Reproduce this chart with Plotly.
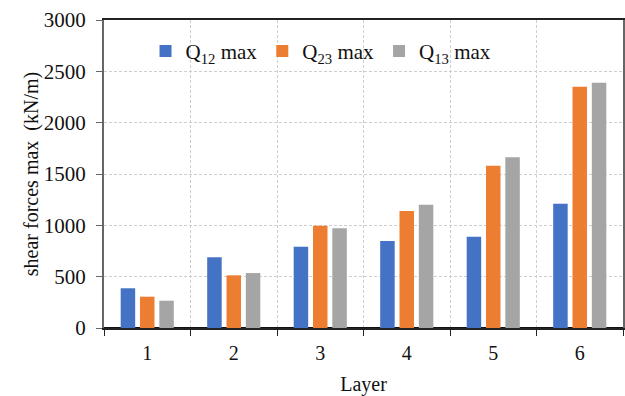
import plotly.graph_objects as go

layers = ["1", "2", "3", "4", "5", "6"]
q12 = [387, 688, 792, 847, 889, 1210]
q23 = [305, 513, 996, 1139, 1580, 2350]
q13 = [266, 535, 971, 1201, 1662, 2389]

names = ["Q<sub>12</sub> max", "Q<sub>23</sub> max", "Q<sub>13</sub> max"]
colors = ["#4472C4", "#ED7D31", "#A5A5A5"]

fig = go.Figure()
for nm, vals, c in zip(names, [q12, q23, q13], colors):
    fig.add_trace(go.Bar(x=layers, y=vals, name=nm, marker_color=c, marker_line_width=0))

font = "Times New Roman, Liberation Serif, serif"
fig.update_layout(
    width=625, height=396, autosize=False,
    margin=dict(l=104, r=2, t=20, b=68, autoexpand=False),
    paper_bgcolor="white", plot_bgcolor="white",
    font=dict(family=font, size=20, color="#111"),
    barmode="group", bargap=0.33, bargroupgap=0.25,
    legend=dict(orientation="h", x=0.08, y=0.965, xanchor="left", yanchor="top",
                font=dict(size=21, family=font, color="#111"), bgcolor="rgba(0,0,0,0)",
                traceorder="normal"),
    showlegend=True,
)
fig.update_xaxes(
    type="category", tickson="boundaries", ticks="outside", ticklen=6,
    tickcolor="#222", showline=True, linecolor="#222", linewidth=1.5, mirror=True,
    showgrid=True, gridcolor="#cfcfcf", griddash="3px,2px", gridwidth=1,
    ticklabelstandoff=6,
    title=dict(text="Layer", font=dict(size=20, family=font, color="#111"), standoff=18),
    tickfont=dict(size=20, family=font, color="#111"),
)
fig.update_yaxes(
    range=[0, 3000], dtick=500, showline=True, linecolor="#666", linewidth=2, mirror=True,
    ticks="outside", ticklen=6, tickcolor="#666",
    showgrid=True, gridcolor="#cfcfcf", griddash="3px,2px", gridwidth=1,
    zeroline=True, zerolinecolor="#111", zerolinewidth=1.5,
    ticklabelstandoff=6,
    title=dict(text="shear forces max  (kN/m)", font=dict(size=20, family=font, color="#111"), standoff=0),
    tickfont=dict(size=21, family=font, color="#111"),
)
fig.write_html("out.html")
